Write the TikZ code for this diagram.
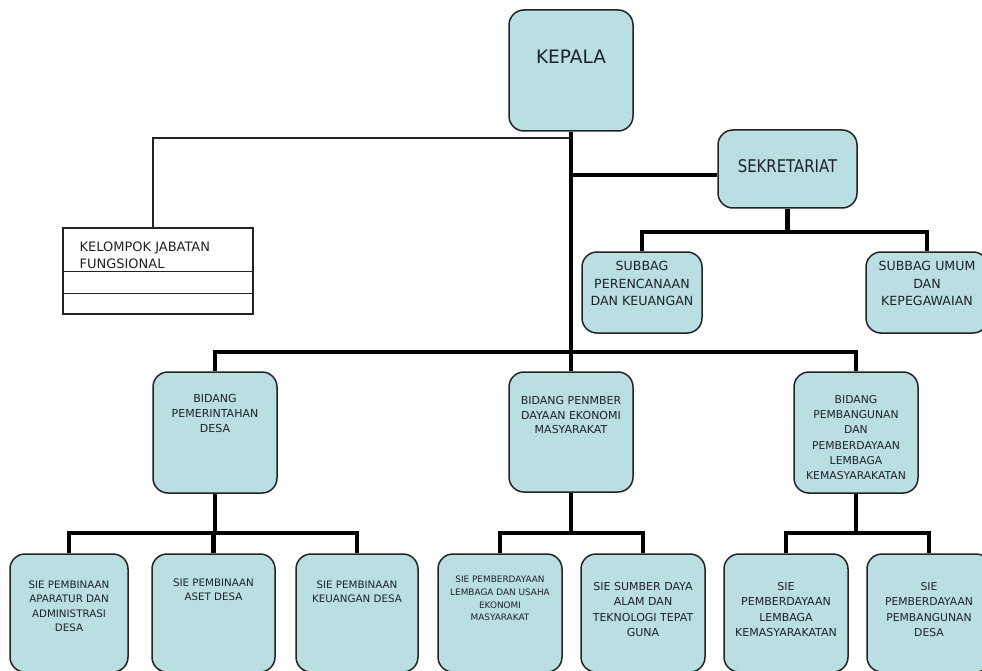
\documentclass[tikz,border=0pt]{standalone}
\usepackage{fontspec}
\setmainfont{DejaVu Sans}
\definecolor{boxfill}{RGB}{186,223,227}
\definecolor{edge}{RGB}{35,35,35}
\definecolor{txt}{RGB}{30,34,40}
\begin{document}
\begin{tikzpicture}[x=1pt,y=-1pt,
  bx/.style={draw=edge, line width=1.5pt, fill=boxfill, rounded corners=15pt, inner sep=0pt},
  lbl/.style={anchor=north, inner sep=0pt, align=center, text=txt},
  conn/.style={line width=4.5pt, black},
  fine/.style={line width=1.3pt, edge}]
\useasboundingbox (0,0) rectangle (982,671);
\clip (0,0) rectangle (982,671);
\fill[white] (0,0) rectangle (982,671);

% coordinates for bus levels
\coordinate (tapy) at (0,138);
\coordinate (mbus) at (0,352);
\coordinate (sbus) at (0,232);
\coordinate (lbus) at (0,533);

% top
\node[bx, minimum width=124pt, minimum height=121pt,
  label={[lbl, font=\fontsize{18.5}{22}\selectfont, yshift=-40.3pt]north:KEPALA}] (kepala) at (571,70.5) {};
\node[bx, minimum width=139pt, minimum height=78pt,
  label={[lbl, font=\fontsize{17.5}{21}\selectfont, yshift=-29.6pt]north:{\scalebox{0.85}[1]{SEKRETARIAT}}}] (sek) at (787.5,169) {};
\node[bx, minimum width=120pt, minimum height=81pt,
  label={[lbl, font=\fontsize{12.6}{17.5}\selectfont, yshift=-10.1pt]north:{SUBBAG\\PERENCANAAN\\DAN KEUANGAN}}] (sub1) at (642,292.5) {};
\node[bx, minimum width=122pt, minimum height=81pt,
  label={[lbl, font=\fontsize{12.6}{17.5}\selectfont, yshift=-10.1pt]north:{SUBBAG UMUM\\DAN\\KEPEGAWAIAN}}] (sub2) at (927,292.5) {};

% kelompok jabatan fungsional
\node[draw=edge, line width=1.3pt, fill=white, minimum width=190pt, minimum height=86pt, inner sep=0pt,
  label={[anchor=north west, inner sep=0pt, align=left, text=txt, font=\fontsize{13}{17}\selectfont, xshift=17pt, yshift=-14.3pt]north west:{KELOMPOK JABATAN\\FUNGSIONAL}}] (kjf) at (158,271) {};
\draw[fine] ([yshift=-44pt]kjf.north west) -- ([yshift=-44pt]kjf.north east);
\draw[fine] ([yshift=-66pt]kjf.north west) -- ([yshift=-66pt]kjf.north east);

% bidang
\node[bx, minimum width=124pt, minimum height=121pt,
  label={[lbl, font=\fontsize{11}{15}\selectfont, yshift=-23pt]north:{BIDANG\\PEMERINTAHAN\\DESA}}] (bid1) at (215,432.5) {};
\node[bx, minimum width=124pt, minimum height=120pt,
  label={[lbl, font=\fontsize{11}{14.5}\selectfont, yshift=-25pt]north:{BIDANG PENMBER\\DAYAAN EKONOMI\\MASYARAKAT}}] (bid2) at (571,432) {};
\node[bx, minimum width=124pt, minimum height=121pt,
  label={[lbl, font=\fontsize{10.8}{15.2}\selectfont, yshift=-24pt]north:{BIDANG\\PEMBANGUNAN\\DAN\\PEMBERDAYAAN\\LEMBAGA\\KEMASYARAKATAN}}] (bid3) at (856,432.5) {};

% sie
\node[bx, minimum width=118pt, minimum height=118pt,
  label={[lbl, font=\fontsize{10.3}{14.5}\selectfont, yshift=-27.3pt]north:{SIE PEMBINAAN\\APARATUR DAN\\ADMINISTRASI\\DESA}}] (sie1) at (69,613) {};
\node[bx, minimum width=123pt, minimum height=118pt,
  label={[lbl, font=\fontsize{10.3}{14.5}\selectfont, yshift=-25.3pt]north:{SIE PEMBINAAN\\ASET DESA}}] (sie2) at (213.5,613) {};
\node[bx, minimum width=122pt, minimum height=118pt,
  label={[lbl, font=\fontsize{10.3}{14.5}\selectfont, yshift=-27.3pt]north:{SIE PEMBINAAN\\KEUANGAN DESA}}] (sie3) at (357,613) {};
\node[bx, minimum width=124pt, minimum height=118pt,
  label={[lbl, font=\fontsize{8.9}{12.7}\selectfont, yshift=-22.8pt]north:{SIE PEMBERDAYAAN\\LEMBAGA DAN USAHA\\EKONOMI\\MASYARAKAT}}] (sie4) at (500,613) {};
\node[bx, minimum width=124pt, minimum height=118pt,
  label={[lbl, font=\fontsize{11}{15.3}\selectfont, yshift=-29pt]north:{SIE SUMBER DAYA\\ALAM DAN\\TEKNOLOGI TEPAT\\GUNA}}] (sie5) at (643,613) {};
\node[bx, minimum width=124pt, minimum height=118pt,
  label={[lbl, font=\fontsize{11}{15.3}\selectfont, yshift=-29pt]north:{SIE\\PEMBERDAYAAN\\LEMBAGA\\KEMASYARAKATAN}}] (sie6) at (786,613) {};
\node[bx, minimum width=124pt, minimum height=118pt,
  label={[lbl, font=\fontsize{10.8}{15.3}\selectfont, yshift=-29pt]north:{SIE\\PEMBERDAYAAN\\PEMBANGUNAN\\DESA}}] (sie7) at (929,613) {};

% connectors
\draw[fine] (kepala.south |- tapy) -| ([xshift=-5pt]kjf.north);
\draw[conn] (kepala.south) -- (bid2.north);
\draw[conn] ([yshift=-6pt]sek.west -| kepala.south) -- ([yshift=-6pt]sek.west);
\draw[conn] (sek.south) -- (sek.south |- sbus);
\draw[conn] (sub1.north) -- (sub1.north |- sbus) -- (sub2.north |- sbus) -- (sub2.north);
\draw[conn] (bid1.north) -- (bid1.north |- mbus) -- (bid3.north |- mbus) -- (bid3.north);
\draw[conn] (bid1.south) -- (bid1.south |- lbus);
\draw[conn] (sie1.north) -- (sie1.north |- lbus) -- (sie3.north |- lbus) -- (sie3.north);
\draw[conn] (sie2.north) -- (sie2.north |- lbus);
\draw[conn] (bid2.south) -- (bid2.south |- lbus);
\draw[conn] (sie4.north) -- (sie4.north |- lbus) -- (sie5.north |- lbus) -- (sie5.north);
\draw[conn] (bid3.south) -- (bid3.south |- lbus);
\draw[conn] (sie6.north) -- (sie6.north |- lbus) -- (sie7.north |- lbus) -- (sie7.north);
\end{tikzpicture}
\end{document}
